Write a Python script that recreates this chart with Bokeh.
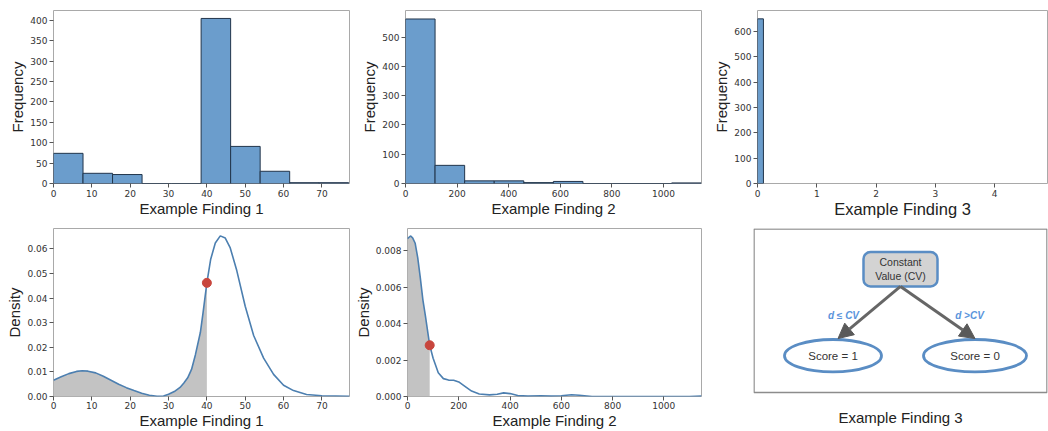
import numpy as np
from bokeh.plotting import figure
from bokeh.layouts import column, row
from bokeh.models import (Range1d, FixedTicker, NumeralTickFormatter, LinearAxis,
                          Arrow, NormalHead, ColumnDataSource)
from bokeh.core.properties import value
from bokeh.embed import file_html
from bokeh.resources import INLINE

# ---------------- data ----------------
hist1_edges = [0, 7.7, 15.4, 23.1, 30.8, 38.5, 46.2, 53.9, 61.6, 69.3, 77.0]
hist1_counts = [74, 25, 22, 0, 0, 405, 91, 30, 2, 2]

hist2_edges = [0, 114.6, 229.2, 343.8, 458.4, 573.0, 687.6, 802.2, 916.8, 1031.4, 1146.0]
hist2_counts = [562, 62, 9, 9, 3, 7, 0, 0, 0, 2]

hist3_edges = [0, 0.1]
hist3_counts = [650]

kde1_x = [0, 2, 4, 6, 7.5, 9, 11, 13, 15, 17, 19, 21, 23, 25, 27, 28.7, 30, 31.5, 33,
          34, 35, 36, 37, 38.3, 39, 40, 41, 42.2, 43.5, 44.8, 46.1, 47.8, 50, 52.2,
          54.8, 57.4, 60, 62.6, 66, 70, 77.2]
kde1_y = [0.0066, 0.0080, 0.0093, 0.0102, 0.0105, 0.0103, 0.0096, 0.0082, 0.0066,
          0.0050, 0.0036, 0.0024, 0.0013, 0.0005, 0.0001, 0.0002, 0.0009, 0.0020,
          0.0037, 0.0055, 0.0076, 0.0110, 0.0169, 0.0260, 0.0340, 0.0462, 0.0558,
          0.0624, 0.0653, 0.0644, 0.0604, 0.0512, 0.0367, 0.0248, 0.0156, 0.0090,
          0.0046, 0.0024, 0.0008, 0.0003, 0.0001]
cut1_x = [40]
cut1_y = [0.0462]

kde2_x = [0, 11.6, 20, 30, 40, 50, 60, 70, 86.6, 100, 120, 140, 160, 180, 200, 220,
          250, 280, 320, 350, 375, 400, 430, 470, 520, 560, 600, 640, 670, 720, 900,
          1100, 1147]
kde2_y = [0.00865, 0.00880, 0.00870, 0.00840, 0.00760, 0.00650, 0.00530, 0.00440,
          0.00281, 0.00210, 0.00130, 0.00098, 0.00090, 0.00089, 0.00080, 0.00060,
          0.00030, 0.00014, 0.00009, 0.00012, 0.00020, 0.00016, 0.00005, 0.00002,
          0.00004, 0.00002, 0.00004, 0.00010, 0.00007, 0.00000, 0.00000, 0.00000,
          0.00002]
cut2_x = [86.6]
cut2_y = [0.00281]

# decision diagram (Example Finding 3)
root_text = ["Constant\nValue (CV)"]
leaf_text = ["Score = 1", "Score = 0"]
edge_text = ["d \u2264 CV", "d >CV"]
root_xy = (900, 269.5)
leaf_x = [832.5, 974.5]
leaf_y = [357.5, 357.5]
leaf_w = [97, 103]
edge_lx = [843, 969]
edge_ly = [317, 317]
box_lrtb = (753.5, 1046.5, 228.5, 395)

# ---------------- styling ----------------
BAR_FILL = "#6b9dcc"
BAR_LINE = "#22354b"
CURVE = "#4c7fb0"
DOT = "#c8463d"
LABEL_FONT = "Liberation Sans"
TICK_FONT = "DejaVu Sans"


def style(p, xlabel, ylabel, xticks, yticks, yfmt=None, xlabel_size="15px",
          xstand=0, xlab_stand=2, tight=False):
    p.grid.visible = False
    p.outline_line_color = "#a9a9a9"
    p.outline_line_width = 1
    p.background_fill_color = "white"
    p.border_fill_color = "white"
    p.xaxis.axis_label = xlabel
    p.yaxis.axis_label = ylabel
    p.xaxis.ticker = FixedTicker(ticks=xticks)
    p.yaxis.ticker = FixedTicker(ticks=yticks)
    if yfmt:
        p.yaxis.formatter = NumeralTickFormatter(format=yfmt)
    for ax in (p.xaxis, p.yaxis):
        ax.axis_line_color = None
        ax.major_tick_out = 4
        ax.major_tick_in = 0
        ax.minor_tick_out = 0
        ax.minor_tick_in = 0
        ax.major_tick_line_color = "#555555"
        ax.major_label_text_font = TICK_FONT
        ax.major_label_text_font_size = "9px"
        ax.major_label_text_color = "#333333"
        ax.major_label_standoff = 2
        ax.axis_label_text_font = LABEL_FONT
        ax.axis_label_text_font_style = "normal"
        ax.axis_label_text_font_size = "15px"
        ax.axis_label_text_color = "#222222"
        ax.axis_label_standoff = 1
    p.xaxis.axis_label_text_font_size = xlabel_size
    p.xaxis.axis_label_standoff = xstand
    p.xaxis.major_label_standoff = xlab_stand
    if tight:
        p.xaxis.axis_label_text_line_height = 0.9
        p.xaxis.major_label_text_line_height = 0.9


def make_fig(fw, fh, bl, br, bt, bb, xr, yr):
    return figure(width=bl + fw + br, height=bt + fh + bb, min_border_left=bl,
                  min_border_right=br, min_border_top=bt, min_border_bottom=bb,
                  x_range=Range1d(*xr), y_range=Range1d(*yr),
                  output_backend="svg", toolbar_location=None)


# ---------------- row 1: histograms ----------------
p1 = make_fig(296, 173, 53, 2, 10, 43, (0, 77.2), (0, 424.5))
p1.quad(left=hist1_edges[:-1], right=hist1_edges[1:], top=hist1_counts, bottom=0,
        fill_color=BAR_FILL, line_color=BAR_LINE, line_width=1)
style(p1, "Example Finding 1", "Frequency", list(range(0, 71, 10)), list(range(0, 401, 50)))

p2 = make_fig(296, 173, 54, 2, 10, 43, (0, 1147), (0, 591))
p2.quad(left=hist2_edges[:-1], right=hist2_edges[1:], top=hist2_counts, bottom=0,
        fill_color=BAR_FILL, line_color=BAR_LINE, line_width=1)
style(p2, "Example Finding 2", "Frequency", list(range(0, 1001, 200)), list(range(0, 501, 100)))

p3 = make_fig(290, 173, 54, 1, 10, 43, (0, 4.89), (0, 683))
p3.quad(left=hist3_edges[:-1], right=hist3_edges[1:], top=hist3_counts, bottom=0,
        fill_color=BAR_FILL, line_color=BAR_LINE, line_width=1)
style(p3, "Example Finding 3", "Frequency", [0, 1, 2, 3, 4], list(range(0, 601, 100)),
      xlabel_size="16.5px")

# ---------------- row 2: densities ----------------
def density(p, xs, ys, cx, cy):
    xs = np.array(xs)
    ys = np.array(ys)
    m = xs <= cx[0]
    p.varea(x=xs[m], y1=0, y2=ys[m], fill_color="#c3c3c3")
    p.line(xs, ys, line_color=CURVE, line_width=1.6)
    p.scatter(cx, cy, size=9, fill_color=DOT, line_color=DOT)


p4 = make_fig(296, 171, 53, 2, 2, 32, (0, 77.2), (0, 0.0683))
density(p4, kde1_x, kde1_y, cut1_x, cut1_y)
style(p4, "Example Finding 1", "Density", list(range(0, 71, 10)),
      [0, 0.01, 0.02, 0.03, 0.04, 0.05, 0.06], "0.00", xstand=0, xlab_stand=1, tight=True)

p5 = make_fig(296, 171, 54, 2, 2, 32, (0, 1147), (0, 0.00921))
density(p5, kde2_x, kde2_y, cut2_x, cut2_y)
style(p5, "Example Finding 2", "Density", list(range(0, 1001, 200)),
      [0, 0.002, 0.004, 0.006, 0.008], "0.000", xstand=0, xlab_stand=1, tight=True)

# ---------------- diagram ----------------
p6 = figure(width=50 + 294 + 1, height=2 + 171 + 32, min_border_left=50, min_border_right=1,
            min_border_top=2, min_border_bottom=32,
            x_range=Range1d(753, 1047), y_range=Range1d(399, 228),
            x_axis_location=None, y_axis_location=None,
            output_backend="svg", toolbar_location=None)
p6.grid.visible = False
p6.outline_line_color = None
p6.border_fill_color = "white"
lab_axis = LinearAxis(ticker=FixedTicker(ticks=[]), axis_label="Example Finding 3")
lab_axis.axis_line_color = None
lab_axis.major_tick_out = 0
lab_axis.major_tick_in = 0
lab_axis.major_label_text_font_size = "0px"
lab_axis.major_label_standoff = 0
lab_axis.axis_label_standoff = 12
lab_axis.axis_label_text_font = LABEL_FONT
lab_axis.axis_label_text_font_style = "normal"
lab_axis.axis_label_text_font_size = "15px"
lab_axis.axis_label_text_line_height = 0.9
lab_axis.axis_label_text_color = "#222222"
p6.add_layout(lab_axis, "below")

p6.quad(left=[box_lrtb[0]], right=[box_lrtb[1]], top=[box_lrtb[2]], bottom=[box_lrtb[3]],
        fill_color="white", line_color="#8c8c8c", line_width=1.5)
arrows = ColumnDataSource(dict(xs=[root_xy[0], root_xy[0]], ys=[287, 287],
                               xe=[leaf_x[0] + 5, leaf_x[1]], ye=[340, 340]))
p6.add_layout(Arrow(end=NormalHead(size=15, fill_color="#595959", line_color="#595959"),
                    x_start="xs", y_start="ys", x_end="xe", y_end="ye", source=arrows,
                    line_color="#666666", line_width=3))
p6.rect([root_xy[0]], [root_xy[1]], width=74, height=35, border_radius=7,
        fill_color="#d3d3d3", line_color="#5a8dc4", line_width=2.5)
p6.text([root_xy[0]], [root_xy[1]], text=root_text, text_align="center",
        text_baseline="middle", text_font=value(LABEL_FONT), text_font_size="10.5px",
        text_color="#333333", text_line_height=1.15)
p6.ellipse(leaf_x, leaf_y, width=leaf_w, height=33, fill_color="white",
           line_color="#5a8dc4", line_width=2.8)
p6.text(leaf_x, leaf_y, text=leaf_text, text_align="center", text_baseline="middle",
        text_font=value(LABEL_FONT), text_font_size="11.5px", text_color="#333333")
p6.text(edge_lx, edge_ly, text=edge_text, text_align="center", text_baseline="middle",
        text_font=value(LABEL_FONT), text_font_size="10px", text_font_style="bold italic",
        text_color="#5b95dc")

layout = column(row(p1, p2, p3), row(p4, p5, p6))
open("out.html", "w").write(file_html(layout, INLINE))
